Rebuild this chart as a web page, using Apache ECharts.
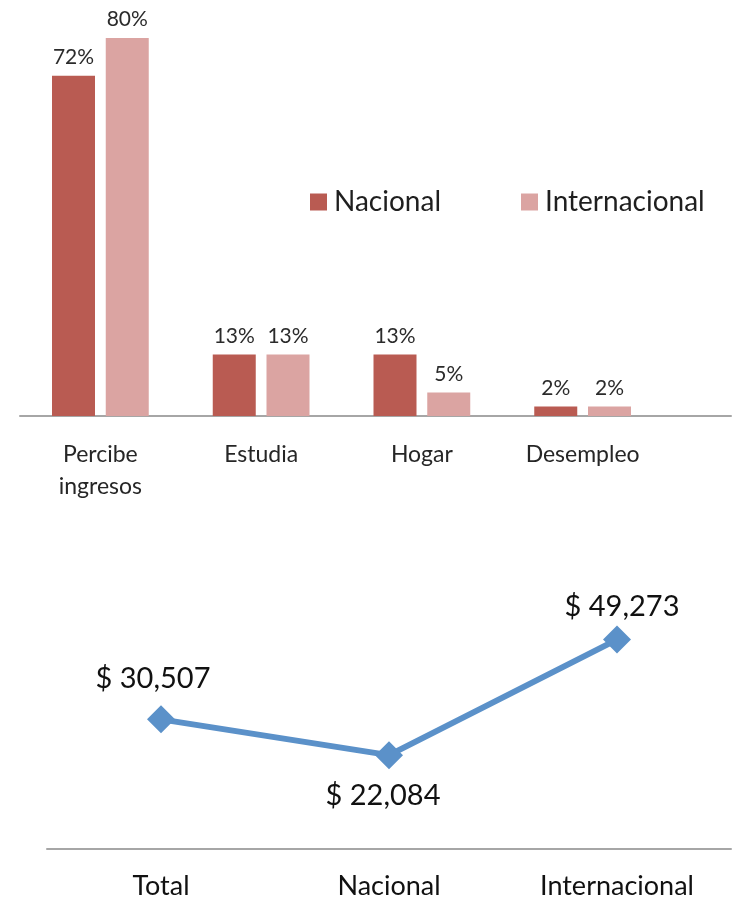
<!DOCTYPE html>
<html lang="es">
<head>
    <meta charset="UTF-8">
    <title>Ocupación e ingresos</title>
    <script src="https://cdn.jsdelivr.net/npm/echarts@6/dist/echarts.min.js"></script>
    <style>
        html, body { margin: 0; padding: 0; background: #fff; }
        #chart { width: 732px; height: 900px; }
    </style>
</head>
<body>
    <div id="chart"></div>

    <script>
        // datos del grafico de barras
        var categorias = ['Percibe\ningresos', 'Estudia', 'Hogar', 'Desempleo'];
        var nacional = [72, 13, 13, 2];
        var internacional = [80, 13, 5, 2];

        // datos del grafico de linea (ingreso promedio)
        var grupos = ['Total', 'Nacional', 'Internacional'];
        var ingresos = [30507, 22084, 49273];

        var fuente = 'Lato, "Open Sans", sans-serif';
        var colorNac = '#B95B52';
        var colorInt = '#DBA4A2';
        var colorLinea = '#5B91C9';

        var myChart = echarts.init(document.getElementById('chart'));

        function fmtDinero(v) {
            return '$ ' + v.toLocaleString('en-US');
        }

        // posicion de etiqueta por punto, como en el original
        var puntosLinea = ingresos.map(function (v, i) {
            var lbl = [
                {position: 'top', distance: 12, offset: [-8, 0]},
                {position: 'bottom', distance: 12, offset: [-6, 0]},
                {position: 'top', distance: 4, offset: [5, 0]}
            ][i];
            return {value: v, label: lbl};
        });

        var option = {
            animation: false,
            textStyle: {fontFamily: fuente},
            legend: [
                {
                    data: ['Nacional'],
                    left: 305, top: 183,
                    itemWidth: 17, itemHeight: 17,
                    icon: 'rect',
                    textStyle: {fontSize: 28, color: '#1f1f1f', fontFamily: fuente, padding: [0, 0, 0, 2]}
                },
                {
                    data: ['Internacional'],
                    left: 516, top: 183,
                    itemWidth: 17, itemHeight: 17,
                    icon: 'rect',
                    textStyle: {fontSize: 28, color: '#1f1f1f', fontFamily: fuente, padding: [0, 0, 0, 2]}
                }
            ],
            grid: [
                {left: 20, right: 69, top: 38, height: 378},
                {left: 20, right: 1, top: 38, height: 378},
                {left: 47, right: 1, top: 594, height: 256}
            ],
            xAxis: [
                {
                    type: 'category', gridIndex: 0, data: categorias,
                    axisLine: {show: false},
                    axisTick: {show: false},
                    axisLabel: {fontSize: 23, color: '#262626', margin: 23, lineHeight: 32, fontFamily: fuente}
                },
                {
                    type: 'value', gridIndex: 1, min: 0, max: 1,
                    axisLine: {show: true, lineStyle: {color: '#A6A6A6', width: 2}},
                    axisTick: {show: false}, axisLabel: {show: false}, splitLine: {show: false}
                },
                {
                    type: 'category', gridIndex: 2, data: grupos,
                    axisLine: {show: true, lineStyle: {color: '#A6A6A6', width: 2}},
                    axisTick: {show: false},
                    axisLabel: {fontSize: 27, color: '#111', margin: 24, fontFamily: fuente}
                }
            ],
            yAxis: [
                {type: 'value', gridIndex: 0, min: 0, max: 80, show: false},
                {type: 'value', gridIndex: 1, min: 0, max: 1, show: false},
                {type: 'value', gridIndex: 2, min: 0, max: 60000, show: false}
            ],
            series: [
                {
                    name: 'Nacional', type: 'bar',
                    xAxisIndex: 0, yAxisIndex: 0,
                    data: nacional,
                    barWidth: 43, barGap: '25%',
                    itemStyle: {color: colorNac},
                    label: {
                        show: true, position: 'top', distance: 8,
                        formatter: '{c}%', fontSize: 21, color: '#2b2b2b', fontFamily: fuente
                    }
                },
                {
                    name: 'Internacional', type: 'bar',
                    xAxisIndex: 0, yAxisIndex: 0,
                    data: internacional,
                    barWidth: 43, barGap: '25%',
                    itemStyle: {color: colorInt},
                    label: {
                        show: true, position: 'top', distance: 8,
                        formatter: '{c}%', fontSize: 21, color: '#2b2b2b', fontFamily: fuente
                    }
                },
                {
                    name: 'Ingreso', type: 'line',
                    xAxisIndex: 2, yAxisIndex: 2,
                    data: puntosLinea,
                    symbol: 'diamond', symbolSize: 28,
                    lineStyle: {color: colorLinea, width: 6},
                    itemStyle: {color: colorLinea},
                    label: {
                        show: true, fontSize: 29, color: '#111', fontFamily: fuente,
                        formatter: function (p) { return fmtDinero(p.value); }
                    }
                }
            ]
        };

        myChart.setOption(option);
    </script>
</body>
</html>
